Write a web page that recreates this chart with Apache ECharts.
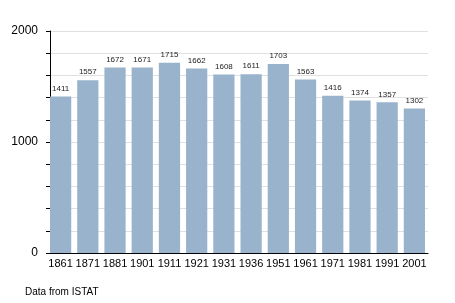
<!DOCTYPE html>
<html><head><meta charset="utf-8">
<script src="https://cdn.jsdelivr.net/npm/echarts@6/dist/echarts.min.js"></script>
<style>html,body{margin:0;padding:0;background:#fff}#c{width:455px;height:303px}</style>
</head><body><div id="c"></div>
<script>
const years = ['1861','1871','1881','1901','1911','1921','1931','1936','1951','1961','1971','1981','1991','2001'];
const population = [1411,1557,1672,1671,1715,1662,1608,1611,1703,1563,1416,1374,1357,1302];
const yTickLabels = [0, 1000, 2000];
const sourceNote = 'Data from ISTAT';

const chart = echarts.init(document.getElementById('c'), null, {renderer:'canvas'});
chart.setOption({
  animation:false,
  textStyle:{fontFamily:'Liberation Sans'},
  grid:{left:47, right:27, top:31, bottom:50},
  title:{text:sourceNote, left:20, top:282, textStyle:{fontSize:10, fontWeight:'normal', color:'#000', fontFamily:'Liberation Sans'}},
  xAxis:{type:'category', data:years,
    axisLine:{lineStyle:{color:'#000', width:1}},
    axisTick:{show:false},
    axisLabel:{color:'#000', fontSize:11, margin:5, interval:0}
  },
  yAxis:{type:'value', min:0, max:2000, interval:200, offset:-3,
    axisLine:{show:true, lineStyle:{color:'#000', width:1}},
    axisTick:{show:true, length:4, lineStyle:{color:'#000'}},
    axisLabel:{color:'#000', fontSize:12, margin:12,
      formatter:v=> yTickLabels.includes(v) ? String(v) : ''},
    splitLine:{show:true, lineStyle:{color:'#e0e0e0', width:1}}
  },
  series:[{type:'bar', data:population, barCategoryGap:'22%',
    itemStyle:{color:'#99b3cc'},
    label:{show:true, position:'top', fontSize:8, color:'#222', distance:4}
  }]
});
</script></body></html>
